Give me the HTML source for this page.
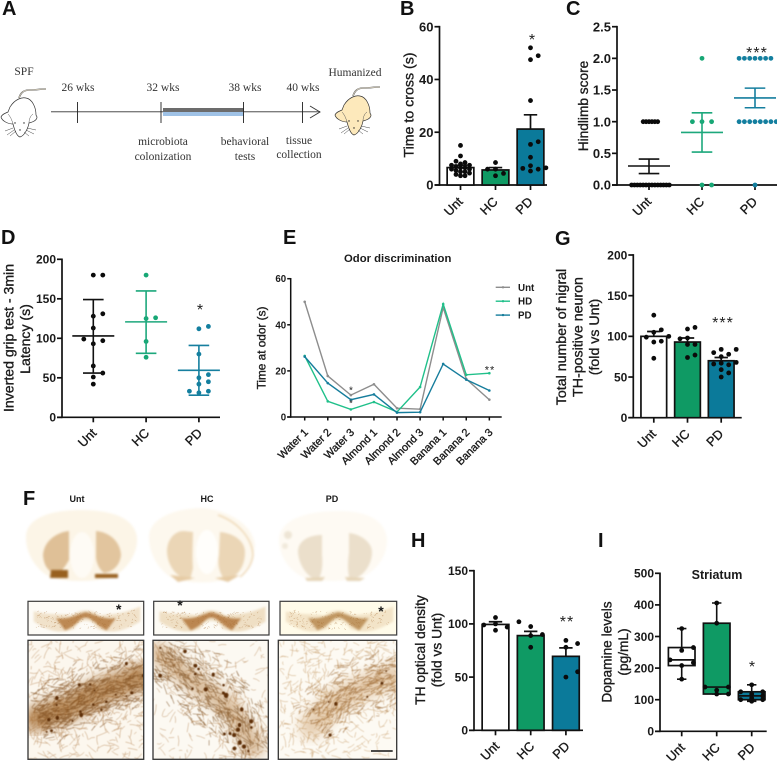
<!DOCTYPE html>
<html lang="en">
<head>
<meta charset="utf-8">
<title>Behavioral and histological panels</title>
<style>
html,body{margin:0;padding:0;background:#fff}
svg{display:block}
text{font-family:"Liberation Sans",Arial,sans-serif;fill:#1a1a1a}
.serif{font-family:"Liberation Serif",serif;font-size:11.5px;fill:#333;text-anchor:middle}
.letter{font-size:20px;font-weight:700;fill:#111}
.title{text-anchor:middle;stroke:#222;stroke-width:.35}
.star{font-size:16px;text-anchor:middle;fill:#222}
.imgLabel{font-size:9px;font-weight:700;text-anchor:middle}
</style>
</head>
<body>
<svg id="fig" xmlns="http://www.w3.org/2000/svg" width="777" height="761" viewBox="0 0 777 761">
<defs>
<filter id="soft" x="-20%" y="-20%" width="140%" height="140%" color-interpolation-filters="sRGB"><feGaussianBlur stdDeviation="1.1"/></filter>
<filter id="softer" x="-40%" y="-40%" width="180%" height="180%" color-interpolation-filters="sRGB"><feGaussianBlur stdDeviation="6"/></filter>
<filter id="fine" x="-5%" y="-5%" width="110%" height="110%" color-interpolation-filters="sRGB"><feGaussianBlur stdDeviation="0.4"/></filter>
<filter id="crisp" x="-2%" y="-2%" width="104%" height="104%" color-interpolation-filters="sRGB"><feGaussianBlur stdDeviation="0.3"/></filter>
<clipPath id="clip-m1"><rect x="28" y="640" width="116" height="119"/></clipPath>
<clipPath id="clip-m2"><rect x="153" y="640" width="115" height="119"/></clipPath>
<clipPath id="clip-m3"><rect x="278" y="640" width="119" height="119"/></clipPath>
<g id="mouse">
<path d="M19 98 C21 92 24 90 30 90 C36 90 40 89 46 89" fill="none" stroke="#555" stroke-width="1.6"/>
<path d="M19 98 C21 92 24 90 30 90 C36 90 40 89 46 89" fill="none" stroke="#e8e0cc" stroke-width=".7"/>
<path d="M10 107 C15 99 22 97 26 98 C32 99 36 107 36 115 L37 117 C37 120 33 122 29 123 C28 129 24 136 20 137 C16 136 14 128 13 124 C8 124 2 121 1 117 C2 114 6 113 8 112 Z" stroke="#333" stroke-width=".7"/>
<path d="M13 124 C12 120 10 116 8 114 M29 123 C29 120 30 116 33 114" fill="none" stroke="#555" stroke-width=".5"/>
<path d="M13 128 L5 131 M14 130 L7 135 M16 131 L10 136 M27 128 L36 130 M26 130 L34 134 M24 132 L29 136" fill="none" stroke="#444" stroke-width=".5"/>
<circle cx="15" cy="123" r=".7" fill="#222"/><circle cx="24" cy="123" r=".7" fill="#222"/><circle cx="20" cy="130" r=".7" fill="#222"/>
</g>
</defs>
<rect x="0" y="0" width="777" height="761" fill="#fff"/>

<g>
<text class="letter" x="2" y="15">A</text>
<text class="letter" x="400" y="15">B</text>
<text class="letter" x="566" y="15">C</text>
<text class="letter" x="1" y="244">D</text>
<text class="letter" x="283" y="244">E</text>
<text class="letter" x="555" y="245">G</text>
<text class="letter" x="23" y="505">F</text>
<text class="letter" x="411" y="547">H</text>
<text class="letter" x="598" y="547">I</text>
</g>

<g filter="url(#crisp)">
<use href="#mouse" fill="#fff"/>
<use href="#mouse" fill="#fde9bb" transform="translate(334,-2)"/>
<text class="serif" x="24" y="75">SPF</text>
<text class="serif" x="355" y="76">Humanized</text>
<line x1="51" y1="111.7" x2="320" y2="111.7" stroke="#7d7d7d" stroke-width="1.4"/>
<rect x="163" y="108" width="81" height="4" fill="#6c6c6c"/>
<rect x="163" y="112" width="81" height="4" fill="#9fc2e6"/>
<path d="M310 106 L320 112 L310 118" fill="none" stroke="#333" stroke-width=".9"/>
<path d="M77.5 102V123M161 102V123M243.5 102V123M302.5 102V123" stroke="#222" stroke-width=".9" fill="none"/>
<text class="serif" x="78" y="91">26 wks</text>
<text class="serif" x="163" y="91">32 wks</text>
<text class="serif" x="245" y="91">38 wks</text>
<text class="serif" x="303" y="91">40 wks</text>
<text class="serif" x="163" y="145">microbiota</text>
<text class="serif" x="163" y="160">colonization</text>
<text class="serif" x="245" y="145">behavioral</text>
<text class="serif" x="245" y="160">tests</text>
<text class="serif" x="299" y="144">tissue</text>
<text class="serif" x="299" y="158">collection</text>
</g>

<g id="charts" filter="url(#crisp)"></g>

<g>
<text class="imgLabel" x="77" y="502">Unt</text>
<text class="imgLabel" x="207" y="502">HC</text>
<text class="imgLabel" x="332" y="502">PD</text>

<g filter="url(#soft)">
<path d="M26 535 C28 518 50 510 81 510 C112 510 135 518 137 538 C138 555 125 572 110 578 C90 582 70 582 52 578 C38 572 25 555 26 535Z" fill="#fcf5e7"/>
<path d="M69 531 C58 532 44 540 43 555 C44 568 50 573 58 574 C63 570 66 565 69 560Z" fill="#dfc097"/>
<path d="M96 531 C108 532 120 540 121 555 C120 566 112 572 104 573 C100 570 97 565 96 558Z" fill="#e2c59e"/>
<path d="M51 570 L68 570 L68 578 L50 578Z" fill="#98601f"/>
<path d="M95 574 L118 574 L118 578 L95 578Z" fill="#98601f"/>
<ellipse cx="82" cy="555" rx="12" ry="23" fill="#fefbf5"/>
</g>
<g filter="url(#soft)">
<path d="M149 535 C151 518 175 508 203 508 C225 510 252 522 255 545 C254 562 245 572 232 578 C212 584 190 584 172 578 C158 570 148 552 149 535Z" fill="#fdf8ee"/>
<path d="M218 515 C238 522 252 538 253 555 C252 565 246 572 240 577" fill="none" stroke="#ecd3ac" stroke-width="1.3"/>
<path d="M184 531 C174 531 167 540 167 552 C168 568 178 578 190 580 L193 568 C192 555 193 540 193 532Z" fill="#ebd6b6"/>
<path d="M220 532 C232 533 245 540 245 552 C245 568 236 578 225 580 C220 574 217 565 219 555Z" fill="#ebd6b6"/>
<ellipse cx="207" cy="552" rx="11" ry="22" fill="#fffefb"/>
<path d="M170 575 L195 578 L178 582Z" fill="#e6cba4"/>
<path d="M215 578 L240 575 L228 582Z" fill="#e6cba4"/>
</g>
<g filter="url(#soft)">
<path d="M279 538 C281 520 305 511 339 511 C370 511 386 522 387 540 C387 558 375 572 360 578 C340 582 322 582 305 578 C290 572 278 556 279 538Z" fill="#fefaf3"/>
<path d="M322 535 C310 535 298 540 298 552 C299 566 308 578 318 580 C322 574 323 565 322 555Z" fill="#ebdfcb"/>
<path d="M349 533 C360 534 372 542 372 552 C372 566 362 578 350 580 C347 572 348 560 349 553Z" fill="#ebdfcb"/>
<circle cx="288" cy="535" r="4" fill="#eee5d5"/><circle cx="285" cy="546" r="3" fill="#f1e9db"/>
<path d="M305 578 L325 577 L322 581 L307 581Z" fill="#e6d5b8"/>
<path d="M345 577 L365 578 L360 581 L347 581Z" fill="#e6d5b8"/>
</g>
</g>

<g id="histology"></g>
</svg>

<script>
/* ---------- chart data ---------- */
const groups = ['Unt', 'HC', 'PD'];

const bTicks = [0, 20, 40, 60];
const bMeans = [6.6, 5.7, 21.2];
const bErrors = [0.9, 0.9, 5.4];
const bUnt = [15, 11, 9, 8.5, 8, 7.5, 7.5, 7, 6.5, 6.5, 6, 6, 5.5, 5, 5, 4.5, 4, 3.5, 3.5];
const bHC = [8.5, 6, 6, 4.4, 3.5];
const bPD = [52, 49, 47.5, 32, 16.4, 15.4, 10.5, 7.3, 6.5, 6.3, 6, 5.3];

const cTicks = [0, 0.5, 1, 1.5, 2, 2.5];
const cTickLabels = ['0.0', '0.5', '1.0', '1.5', '2.0', '2.5'];
const cMeans = [0.3, 0.83, 1.375];
const cLow = [0.18, 0.52, 1.22];
const cHigh = [0.41, 1.14, 1.53];
const cUnt = [0,0,0,0,0,0,0,0,0,0,0,0,0,0,1,1,1,1,1,1];
const cHC = [0,0,1,1,1,2];
const cPD = [0,1,1,1,1,1,1,1,1,2,2,2,2,2,2,2];

const dTicks = [0, 50, 100, 150, 200];
const dMeans = [103, 120.8, 59.5];
const dLow = [56, 81, 28];
const dHigh = [149, 160, 91];
const dUnt = [180,180,131,128,113,99,97,93,65,56,51,42];
const dHC = [180,126,125,96,76];
const dPD = [115,112,80,54,50,45,42,33,33,31];

const eCategories = ['Water 1','Water 2','Water 3','Almond 1','Almond 2','Almond 3','Banana 1','Banana 2','Banana 3'];
const eTicks = [0, 20, 40, 60];
const eSeriesNames = ['Unt', 'HD', 'PD'];
const eUnt = [50, 17.8, 9.5, 14.2, 3.8, 3.4, 47.5, 16.5, 7.5];
const eHD = [26.5, 6.8, 3.3, 6.5, 2.2, 13, 49, 18.3, 19];
const ePD = [26.2, 14.7, 7.5, 9.8, 1.9, 2.1, 23, 16.2, 11.5];

const gTicks = [0, 50, 100, 150, 200];
const gMeans = [100, 93, 70];
const gErrors = [6, 5, 4];
const gUnt = [126,108,105,100,99,94,93,73];
const gHC = [111,109,98,97,90,90,77,74];
const gPD = [84,84,80,78,75,68,67,66,65,59,55,50];

const hTicks = [0, 50, 100, 150];
const hMeans = [99.5, 89, 69.5];
const hErrors = [2.5, 4, 8];
const hUnt = [106,102,100,99,97,94];
const hHC = [97.5,90,89,78];
const hPD = [84.5,81.5,78,55,50];

const iTicks = [0, 100, 200, 300, 400, 500];
const iUnt = [165,208,217,226,256,265,325];
const iHC = [118,118,130,140,140,342,406];
const iPD = [95,100,100,105,112,118,125,125,147];

/* ---------- helpers ---------- */
const SVGNS = 'http://www.w3.org/2000/svg';
const charts = document.getElementById('charts');
const histology = document.getElementById('histology');
const fills = ['#ffffff', '#0f9a64', '#0b7a9a'];
const marks = ['#0b0b0b', '#17a775', '#137f9f'];
const lines = ['#111111', '#1da87c', '#167f9f'];

function make(parent, tag, attrs, txt) {
  const e = document.createElementNS(SVGNS, tag);
  for (const k in attrs) e.setAttribute(k, attrs[k]);
  if (txt !== undefined) e.textContent = txt;
  parent.appendChild(e);
  return e;
}

function yScale(p) {
  return v => p.yBase - (v - p.min) / (p.max - p.min) * (p.yBase - p.yTop);
}
function xScale(p) {
  return i => p.cx0 + i * p.step;
}

function axes(name, p, cats, ticks, tickLabels) {
  const g = make(charts, 'g', {});
  
  
  const y = yScale(p), x = xScale(p);
  const sw = p.axisWidth || 1.7;
  const yAxis = make(g, 'line', {x1: p.x0, y1: p.yTop - sw / 2, x2: p.x0, y2: p.yBase + sw / 2, stroke: '#111', 'stroke-width': sw});
  
  
  const xAxis = make(g, 'line', {x1: p.x0 - (p.tick || 5), y1: p.yBase, x2: p.xEnd, y2: p.yBase, stroke: '#111', 'stroke-width': sw});
  
  
  ticks.forEach((t, i) => {
    const py = y(t);
    const tk = make(g, 'line', {x1: p.x0 - (p.tick || 5), y1: py, x2: p.x0, y2: py, stroke: '#111', 'stroke-width': sw});
    
    
    const lab = make(g, 'text', {x: p.x0 - (p.tick || 5) - 1, y: py + p.font * 0.36, 'text-anchor': 'end', 'font-size': p.font, 'font-weight': 700}, tickLabels ? tickLabels[i] : String(t));
    
    
  });
  cats.forEach((c, i) => {
    const px = x(i);
    const tk = make(g, 'line', {x1: px, y1: p.yBase, x2: px, y2: p.yBase + (p.tick || 5), stroke: '#111', 'stroke-width': sw});
    
    
    const lx = px + (p.labDx === undefined ? 4 : p.labDx), ly = p.yBase + (p.labDy || 14);
    const lab = make(g, 'text', {x: lx, y: ly, 'text-anchor': 'end', 'font-size': p.catFont || 12.8, transform: 'rotate(-45 ' + lx + ' ' + ly + ')', stroke: '#1a1a1a', 'stroke-width': .35}, c);
    
    
  });
}

/* beeswarm: every dot's x offset is derived from collisions between values */
function swarm(values, y, cx, step, minDist) {
  const sorted = values.slice().sort((a, b) => a - b);
  const placed = [];
  sorted.forEach(v => {
    const py = y(v);
    for (let k = 0; k < 60; k++) {
      const off = k === 0 ? 0 : (k % 2 ? (k + 1) / 2 : -k / 2) * step;
      const hit = placed.some(q => Math.hypot(q.x - (cx + off), q.y - py) < minDist);
      if (!hit) { placed.push({x: cx + off, y: py}); break; }
    }
  });
  return placed;
}

function dots(name, parent, pts, color, r) {
  pts.forEach(q => {
    const c = make(parent, 'circle', {cx: q.x, cy: q.y, r: r, fill: color});
    
    
  });
}

function barChart(name, p, means, errors, seriesList, ticks) {
  axes(name, p, groups, ticks);
  const y = yScale(p), x = xScale(p);
  groups.forEach((grp, i) => {
    const g = make(charts, 'g', {});
    
    
    const top = y(means[i]);
    const bar = make(g, 'rect', {x: x(i) - p.barW / 2, y: top, width: p.barW, height: p.yBase - top, fill: fills[i], stroke: '#111', 'stroke-width': 1.7});
    
    
    const et = y(means[i] + errors[i]);
    const err = make(g, 'path', {d: 'M' + x(i) + ' ' + top + 'V' + et + 'M' + (x(i) - 6.7) + ' ' + et + 'H' + (x(i) + 6.7), stroke: '#111', 'stroke-width': 1.7, fill: 'none'});
    
    
    dots(name, g, swarm(seriesList[i], y, x(i), p.dotStep[i], p.dotMin[i]), '#0b0b0b', 2.4);
  });
}

function scatterChart(name, p, means, low, high, seriesList, ticks, labels, steps, mins) {
  axes(name, p, groups, ticks, labels);
  const y = yScale(p), x = xScale(p);
  groups.forEach((grp, i) => {
    const g = make(charts, 'g', {});
    
    
    dots(name, g, swarm(seriesList[i], y, x(i), steps[i], mins[i]), marks[i], 2.4);
    const hw = p.meanHW, cw = p.capHW, cx = x(i);
    const d = 'M' + (cx - hw) + ' ' + y(means[i]) + 'H' + (cx + hw) +
      'M' + (cx - cw) + ' ' + y(low[i]) + 'H' + (cx + cw) +
      'M' + (cx - cw) + ' ' + y(high[i]) + 'H' + (cx + cw) +
      'M' + cx + ' ' + y(low[i]) + 'V' + y(high[i]);
    const ln = make(g, 'path', {d: d, stroke: lines[i], 'stroke-width': 1.6, fill: 'none'});
    
    
  });
}

function quantile(sorted, q) {
  const pos = (sorted.length + 1) * q - 1;
  const lo = Math.max(0, Math.floor(pos)), hi = Math.min(sorted.length - 1, Math.ceil(pos));
  return sorted[lo] + (sorted[hi] - sorted[lo]) * (pos - lo);
}

function boxChart(name, p, seriesList, ticks) {
  axes(name, p, groups, ticks);
  const y = yScale(p), x = xScale(p);
  groups.forEach((grp, i) => {
    const g = make(charts, 'g', {});
    
    
    const s = seriesList[i].slice().sort((a, b) => a - b);
    const q1 = quantile(s, .25), med = quantile(s, .5), q3 = quantile(s, .75);
    const mn = s[0], mx = s[s.length - 1], cx = x(i), hw = 13.3, cap = 4.7;
    const wh = make(g, 'path', {d: 'M' + cx + ' ' + y(mx) + 'V' + y(mn) + 'M' + (cx - cap) + ' ' + y(mx) + 'H' + (cx + cap) + 'M' + (cx - cap) + ' ' + y(mn) + 'H' + (cx + cap), stroke: '#111', 'stroke-width': 1.6, fill: 'none'});
    
    
    const box = make(g, 'rect', {x: cx - hw, y: y(q3), width: hw * 2, height: y(q1) - y(q3), fill: fills[i], stroke: '#111', 'stroke-width': 1.7});
    
    
    const ml = make(g, 'line', {x1: cx - hw, x2: cx + hw, y1: y(med), y2: y(med), stroke: '#111', 'stroke-width': 1.7});
    
    
    dots(name, g, swarm(seriesList[i], y, cx, p.dotStep[i], p.dotMin[i]), '#0b0b0b', 2.4);
  });
}

function lineChart(name, p, cats, seriesNames, seriesList, ticks, colors) {
  axes(name, p, cats, ticks);
  const y = yScale(p), x = xScale(p);
  seriesList.forEach((vals, s) => {
    const g = make(charts, 'g', {});
    
    
    const d = vals.map((v, i) => (i ? 'L' : 'M') + x(i) + ' ' + y(v)).join('');
    const ln = make(g, 'path', {d: d, fill: 'none', stroke: colors[s], 'stroke-width': 1.4});
    
    
    vals.forEach((v, i) => {
      const c = make(g, 'circle', {cx: x(i), cy: y(v), r: 1.3, fill: colors[s]});
      
      
    });
    const ly = p.legendY + s * p.legendGap;
    const key = make(g, 'line', {x1: 495.7, x2: 510, y1: ly, y2: ly, stroke: colors[s], 'stroke-width': 1.4});
    
    
    const kd = make(g, 'circle', {cx: 503, cy: ly, r: 1.2, fill: colors[s]});
    
    
    const kt = make(g, 'text', {x: 518, y: ly + 3.5, 'font-size': 9.8, 'font-weight': 700}, seriesNames[s]);
    
    
  });
}

function axisTitle(name, text, x, y, size) {
  const t = make(charts, 'text', {class: 'title', x: x, y: y, transform: 'rotate(-90 ' + x + ' ' + y + ')', 'font-size': size}, text);
  t.style.fontSize = size + 'px';
  
  
}

function star(name, text, x, y, size) {
  const t = make(charts, 'text', {class: 'star', x: x, y: y + size * .57, 'letter-spacing': text.length > 1 ? 1 : 0}, text);
  t.style.fontSize = size + 'px';
  
  
}

/* ---------- draw charts ---------- */
barChart('time-to-cross', {x0: 439.5, xEnd: 547, yTop: 26.7, yBase: 185, min: 0, max: 60, cx0: 460.5, step: 35, barW: 26.7, font: 13, dotStep: [4.5, 8, 7.7], dotMin: [3.6, 5, 5], labDx: 3, labDy: 17.5}, bMeans, bErrors, [bUnt, bHC, bPD], bTicks);
axisTitle('time-to-cross-y-title', 'Time to cross (s)', 413.5, 105, 14.2);
star('time-to-cross-significance', '*', 532, 36, 16);

scatterChart('hindlimb-score', {x0: 617, xEnd: 777, yTop: 26.7, yBase: 185, min: 0, max: 2.5, cx0: 649, step: 53, font: 13, meanHW: 21, capHW: 10.3, labDx: 3, labDy: 17.5}, cMeans, cLow, cHigh, [cUnt, cHC, cPD], cTicks, cTickLabels, [2.9, 9.6, 5.3], [2.7, 9, 5]);
axisTitle('hindlimb-score-y-title', 'Hindlimb score', 588, 106, 13.7);
star('hindlimb-score-significance', '***', 757, 49, 16);

scatterChart('inverted-grip', {x0: 62, xEnd: 220, yTop: 259.3, yBase: 417.3, min: 0, max: 200, cx0: 93.3, step: 52.8, font: 12, meanHW: 21, capHW: 10.3, labDx: 4, labDy: 16.5}, dMeans, dLow, dHigh, [dUnt, dHC, dPD], dTicks, null, [9.5, 9.5, 9.5], [6, 6, 6]);
axisTitle('inverted-grip-y-title-line-1', 'Inverted grip test - 3min', 13.5, 338, 14.1);
axisTitle('inverted-grip-y-title-line-2', 'Latency (s)', 30, 339, 14.1);
star('inverted-grip-significance', '*', 200, 306, 16);

lineChart('odor-discrimination', {x0: 290.7, xEnd: 501.7, yTop: 278.7, yBase: 417, min: 0, max: 60, cx0: 304.7, step: 23.08, font: 9.7, tick: 3.5, axisWidth: 1.5, catFont: 10.8, labDx: 4, labDy: 16, legendY: 287.3, legendGap: 13.9}, eCategories, eSeriesNames, [eUnt, eHD, ePD], eTicks, ['#8d8d8d', '#20c08a', '#167d9c']);
axisTitle('odor-discrimination-y-title', 'Time at odor (s)', 265.5, 348, 11.8);
const eTitle = make(charts, 'text', {x: 397.7, y: 262, 'text-anchor': 'middle', 'font-size': 11.3, 'font-weight': 700}, 'Odor discrimination');


star('odor-water-3-significance-1', '*', 351, 388, 10);
star('odor-water-3-significance-2', '*', 351, 401, 10);
star('odor-banana-3-significance', '**', 490, 367, 11);

barChart('nigral-neurons', {x0: 633.3, xEnd: 741.7, yTop: 255, yBase: 417.7, min: 0, max: 200, cx0: 653.8, step: 33.7, barW: 25.7, font: 12, dotStep: [7.5, 7.5, 7.5], dotMin: [6, 6, 6], labDx: 3, labDy: 17}, gMeans, gErrors, [gUnt, gHC, gPD], gTicks);
axisTitle('nigral-neurons-y-title-line-1', 'Total number of nigral', 566, 337, 14.2);
axisTitle('nigral-neurons-y-title-line-2', 'TH-positive neuron', 582.5, 337, 14.2);
axisTitle('nigral-neurons-y-title-line-3', '(fold vs Unt)', 599, 337, 14.2);
star('nigral-neurons-significance', '***', 723, 319, 16);

barChart('th-optical-density', {x0: 474, xEnd: 583, yTop: 570.7, yBase: 730.3, min: 0, max: 150, cx0: 495.5, step: 35.2, barW: 26.7, font: 12, dotStep: [11.7, 11.7, 11.7], dotMin: [6, 6, 6], labDx: 4.5, labDy: 16.7}, hMeans, hErrors, [hUnt, hHC, hPD], hTicks);
axisTitle('th-optical-density-y-title-line-1', 'TH optical density', 425, 650, 13.8);
axisTitle('th-optical-density-y-title-line-2', '(fold vs Unt)', 441.5, 650, 13.8);
star('th-optical-density-significance', '**', 567, 618, 16);

boxChart('dopamine', {x0: 660, xEnd: 766.7, yTop: 573.3, yBase: 731.3, min: 0, max: 500, cx0: 681.7, step: 35, font: 12, labDx: 4, labDy: 17, dotStep: [11.7, 11.7, 11], dotMin: [7, 3.5, 3]}, [iUnt, iHC, iPD], iTicks);
axisTitle('dopamine-y-title-line-1', 'Dopamine levels', 611.5, 652, 13.7);
axisTitle('dopamine-y-title-line-2', '(pg/mL)', 628, 652, 13.7);
const iTitle = make(charts, 'text', {x: 717, y: 579, 'text-anchor': 'middle', 'font-size': 12.5, 'font-weight': 700}, 'Striatum');


star('dopamine-significance', '*', 752, 663, 16);

/* ---------- histology textures (decorative image stand-ins, not chart data) ---------- */
function prng(seed) {
  let s = seed >>> 0;
  return () => { s = (s * 1664525 + 1013904223) >>> 0; return s / 4294967296; };
}

function midStrip(name, x, y, w, h, bg, pale, dark, sx, sy, seed) {
  const rnd = prng(seed);
  const g = make(histology, 'g', {});
  
  
  const bgr = make(g, 'rect', {x: x, y: y, width: w, height: h, fill: bg});
  
  
  const P = (a, b) => (x + a * w) + ' ' + (y + b * h);
  const wing = 'M' + P(.05, .3) + 'C' + P(.2, .42) + ' ' + P(.3, .36) + ' ' + P(.38, .42) + 'C' + P(.45, .22) + ' ' + P(.55, .22) + ' ' + P(.62, .42) + 'C' + P(.7, .36) + ' ' + P(.8, .42) + ' ' + P(.97, .15) + 'L' + P(.97, .6) + 'C' + P(.8, .95) + ' ' + P(.7, .95) + ' ' + P(.6, .82) + 'C' + P(.56, .5) + ' ' + P(.44, .5) + ' ' + P(.4, .82) + 'C' + P(.3, .95) + ' ' + P(.2, .95) + ' ' + P(.05, .6) + 'Z';
  const wp = make(g, 'path', {d: wing, fill: pale, filter: 'url(#soft)'});
  
  
  const core = 'M' + P(.24, .5) + 'C' + P(.36, .55) + ' ' + P(.42, .38) + ' ' + P(.5, .32) + 'C' + P(.58, .38) + ' ' + P(.64, .55) + ' ' + P(.76, .5) + 'L' + P(.68, .86) + 'C' + P(.6, .74) + ' ' + P(.56, .5) + ' ' + P(.5, .48) + 'C' + P(.44, .5) + ' ' + P(.42, .74) + ' ' + P(.32, .86) + 'Z';
  const cp = make(g, 'path', {d: core, fill: dark, filter: 'url(#soft)'});
  
  
  let specks = '';
  for (let i = 0; i < 170; i++) {
    const a = .07 + rnd() * .86, mid = Math.abs(a - .5);
    const b = .32 + mid * -.1 + rnd() * .5;
    specks += 'M' + (x + a * w).toFixed(1) + ' ' + (y + b * h).toFixed(1) + 'l' + ((rnd() - .5) * 4).toFixed(1) + ' ' + ((rnd() - .5) * 3).toFixed(1);
  }
  const sp = make(g, 'path', {d: specks, stroke: '#a56d33', 'stroke-width': .5, fill: 'none', opacity: .55});
  
  
  const bord = make(g, 'rect', {x: x, y: y, width: w, height: h, fill: 'none', stroke: '#3a3a3a', 'stroke-width': 1.2});
  
  
  const st = make(g, 'text', {x: sx, y: sy + 8, 'font-size': 14, 'text-anchor': 'middle', 'font-weight': 700, fill: '#111'}, '*');
  
  
}

function micrograph(name, x, y, w, h, clip, opts) {
  const rnd = prng(opts.seed);
  const g = make(histology, 'g', {'clip-path': 'url(#' + clip + ')'});
  
  
  const bg = make(g, 'rect', {x: x, y: y, width: w, height: h, fill: opts.bg});
  
  
  const band = opts.band.map(q => [x + q[0] * w, y + q[1] * h]);
  const hz = make(g, 'polyline', {points: band.map(q => q.join(',')).join(' '), fill: 'none', stroke: opts.haze, 'stroke-width': opts.hazeW, 'stroke-linecap': 'round', filter: 'url(#softer)', opacity: opts.hazeOp});
  
  
  function along() {
    const t = rnd() * (band.length - 1), i = Math.min(Math.floor(t), band.length - 2), f = t - i;
    const a = band[i], b = band[i + 1];
    return {x: a[0] + (b[0] - a[0]) * f, y: a[1] + (b[1] - a[1]) * f, ang: Math.atan2(b[1] - a[1], b[0] - a[0])};
  }
  function bandDist(px, py) {
    let best = 1e9;
    for (let i = 0; i < band.length - 1; i++) {
      for (let f = 0; f <= 1; f += .1) {
        const qx = band[i][0] + (band[i + 1][0] - band[i][0]) * f, qy = band[i][1] + (band[i + 1][1] - band[i][1]) * f;
        best = Math.min(best, Math.hypot(px - qx, py - qy));
      }
    }
    return best;
  }
  let thin = '', thick = '', cells = '';
  for (let i = 0; i < opts.bgFibres; i++) {
    const px = x + rnd() * w, py = y + rnd() * h;
    const d = bandDist(px, py);
    if (rnd() > .3 + .7 * Math.exp(-(d * d) / (opts.falloff * opts.falloff))) continue;
    const ang = opts.bgAngle + (rnd() - .5) * 3, l = 3 + rnd() * 9;
    const bend = (rnd() - .5) * 4;
    thin += 'M' + px.toFixed(1) + ' ' + py.toFixed(1) + 'q' + (Math.cos(ang) * l / 2 - Math.sin(ang) * bend).toFixed(1) + ' ' + (Math.sin(ang) * l / 2 + Math.cos(ang) * bend).toFixed(1) + ' ' + (Math.cos(ang) * l).toFixed(1) + ' ' + (Math.sin(ang) * l).toFixed(1);
  }
  for (let i = 0; i < opts.bandFibres; i++) {
    const q = along(), sp = (rnd() + rnd() + rnd() - 1.5) * opts.spread;
    const px = q.x - Math.sin(q.ang) * sp, py = q.y + Math.cos(q.ang) * sp;
    const ang = q.ang + (rnd() - .5) * 1.2, l = 3 + rnd() * 8;
    thick += 'M' + px.toFixed(1) + ' ' + py.toFixed(1) + 'l' + (Math.cos(ang) * l).toFixed(1) + ' ' + (Math.sin(ang) * l).toFixed(1);
  }
  for (let i = 0; i < opts.cells; i++) {
    const q = along(), sp = (rnd() - .5) * opts.spread * 1.4;
    const px = q.x - Math.sin(q.ang) * sp, py = q.y + Math.cos(q.ang) * sp, r = opts.cellR * (.6 + rnd() * .7);
    cells += 'M' + (px - r).toFixed(1) + ' ' + py.toFixed(1) + 'a' + r.toFixed(1) + ' ' + r.toFixed(1) + ' 0 1 0 ' + (2 * r).toFixed(1) + ' 0a' + r.toFixed(1) + ' ' + r.toFixed(1) + ' 0 1 0 ' + (-2 * r).toFixed(1) + ' 0Z';
  }
  const p1 = make(g, 'path', {d: thin, fill: 'none', stroke: opts.thinColor, 'stroke-width': .5, opacity: .7, filter: 'url(#fine)'});
  
  
  const p2 = make(g, 'path', {d: thick, fill: 'none', stroke: opts.thickColor, 'stroke-width': .7, opacity: .6, filter: 'url(#fine)'});
  
  
  const p3 = make(g, 'path', {d: cells, fill: '#5f3009', filter: 'url(#fine)'});
  
  
  const bord = make(histology, 'rect', {x: x, y: y, width: w, height: h, fill: 'none', stroke: '#333', 'stroke-width': 1.3});
  
  
}

midStrip('midbrain-unt', 28, 601.3, 115.7, 33.7, '#fdfbf6', '#f1e2ca', '#bd8953', 118.7, 606, 7);
midStrip('midbrain-hc', 153.7, 601.3, 115.3, 33.7, '#fdfbf5', '#efdfc4', '#bb8650', 180, 602, 17);
midStrip('midbrain-pd', 280, 601.3, 116.7, 33.7, '#fffbe9', '#f3e4c8', '#c09661', 381, 608, 37);

micrograph('micrograph-unt', 28, 640.3, 115.7, 119, 'clip-m1', {
  seed: 11, bg: '#fcf7ee', haze: '#a9743c', hazeW: 26, hazeOp: .78,
  band: [[.06, .66], [.35, .57], [.6, .44], [1, .3]], spread: 26, falloff: 42,
  bgFibres: 720, bandFibres: 520, cells: 20, cellR: 1.4, bgAngle: -.5,
  thinColor: '#a86f36', thickColor: '#74400f'
});
micrograph('micrograph-hc', 153, 640.3, 115.3, 119, 'clip-m2', {
  seed: 29, bg: '#fcf9f2', haze: '#bb8a54', hazeW: 20, hazeOp: .55,
  band: [[.03, .1], [.33, .33], [.65, .55], [.88, .9]], spread: 28, falloff: 34,
  bgFibres: 520, bandFibres: 400, cells: 24, cellR: 1.7, bgAngle: .7,
  thinColor: '#ad7740', thickColor: '#70400f'
});
micrograph('micrograph-pd', 278.3, 640.3, 118.4, 119, 'clip-m3', {
  seed: 53, bg: '#fdfaf3', haze: '#d2a878', hazeW: 24, hazeOp: .55,
  band: [[.28, .72], [.5, .5], [.75, .38], [.98, .3]], spread: 28, falloff: 50,
  bgFibres: 650, bandFibres: 300, cells: 7, cellR: 1.3, bgAngle: -.5,
  thinColor: '#b98648', thickColor: '#8f571e'
});
const sb = make(histology, 'line', {x1: 371, x2: 392.7, y1: 751, y2: 751, stroke: '#111', 'stroke-width': 1.5});


</script>
</body>
</html>
